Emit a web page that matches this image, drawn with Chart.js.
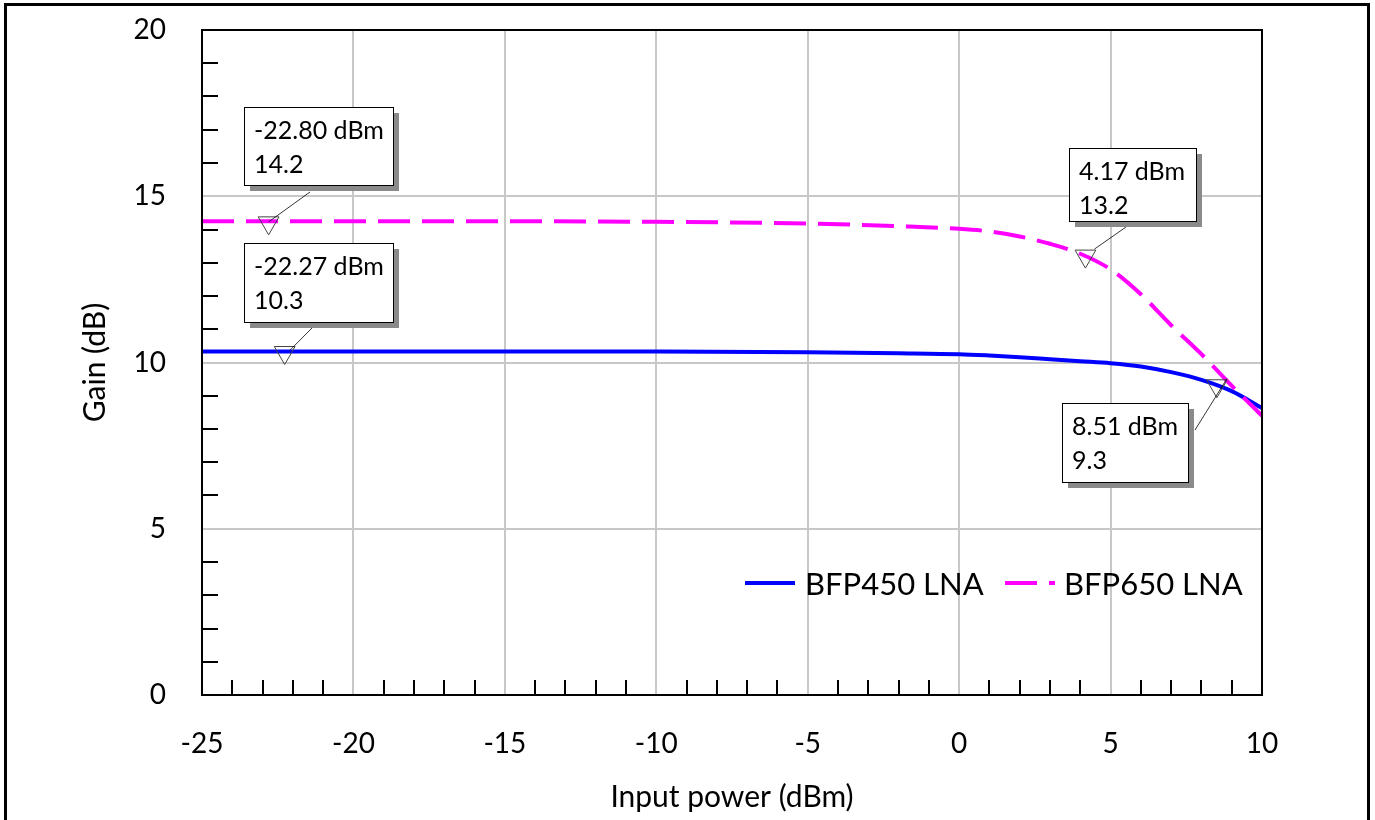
<!DOCTYPE html>
<html>
<head>
<meta charset="utf-8">
<script src="https://cdn.jsdelivr.net/npm/chart.js@4/dist/chart.umd.min.js"></script>
<style>
  body { margin: 0; background: #fff; }
  canvas { display: block; }
</style>
</head>
<body>
<canvas id="plot1" width="1375" height="820"></canvas>
<script>
// input power sweep (dBm)
const powerDbm = [-25, -20, -15, -10, -5, -2, 0, 1, 2, 3, 4, 5, 6, 7, 8, 9, 10];
// gain curves (dB)
const bfp450Gain = [10.33, 10.33, 10.33, 10.33, 10.31, 10.28, 10.25, 10.21, 10.16, 10.1, 10.04, 9.98, 9.88, 9.71, 9.48, 9.14, 8.63];
const bfp650Gain = [14.25, 14.25, 14.25, 14.23, 14.18, 14.1, 14.02, 13.94, 13.79, 13.57, 13.27, 12.8, 12.05, 11.12, 10.25, 9.3, 8.4];
const seriesNames = ["BFP450 LNA", "BFP650 LNA"];

// marker readouts
const markerX = [-22.80, -22.27, 4.17, 8.51];
const markerY = [14.2, 10.3, 13.2, 9.3];

// callout box placement relative to each marker (pixels)
const callouts = [
    {dx: -25, dy: -116, w: 149, h: 78, ax: 66, ay: 85, ex: 0, ey: -1},
    {dx: -41, dy: -110, w: 149, h: 79, ax: 68, ay: 85, ex: 5, ey: -2},
    {dx: -16, dy: -108, w: 127, h: 73, ax: 57, ay: 79, ex: 9, ey: -7},
    {dx: -155, dy: 17, w: 126, h: 79, ax: 133, ay: 27, ex: 10, ey: -7}
];

const FONT = "Lato";

const framePlugin = {
    id: "frame",
    beforeDatasetsDraw(chart) {
        const ctx = chart.ctx;
        const xs = chart.scales.x, ys = chart.scales.y;
        const a = chart.chartArea;
        ctx.save();
        ctx.strokeStyle = "#000";
        ctx.lineWidth = 2;
        // inward minor ticks
        xs.ticks.forEach(t => {
            if (t.value % 5 === 0) return;
            const px = Math.round(xs.getPixelForValue(t.value));
            ctx.beginPath();
            ctx.moveTo(px, a.bottom);
            ctx.lineTo(px, a.bottom - 15);
            ctx.stroke();
        });
        ys.ticks.forEach(t => {
            if (t.value % 5 === 0) return;
            const py = Math.round(ys.getPixelForValue(t.value));
            ctx.beginPath();
            ctx.moveTo(a.left, py);
            ctx.lineTo(a.left + 16, py);
            ctx.stroke();
        });
        ctx.restore();
    },
    afterDatasetsDraw(chart) {
        const ctx = chart.ctx;
        const xs = chart.scales.x, ys = chart.scales.y;
        ctx.save();
        for (let i = 0; i < markerX.length; i++) {
            const c = callouts[i];
            const mx = xs.getPixelForValue(markerX[i]);
            const my = ys.getPixelForValue(markerY[i]);
            const bx = Math.round(mx + c.dx), by = Math.round(my + c.dy);
            // connector
            ctx.strokeStyle = "#000";
            ctx.lineWidth = 0.8;
            ctx.beginPath();
            ctx.moveTo(bx + c.ax, by + c.ay);
            ctx.lineTo(mx + c.ex, my + c.ey);
            ctx.stroke();
            // shadow + box
            ctx.fillStyle = "#8a8a8a";
            ctx.fillRect(bx + 6, by + 6, c.w, c.h);
            ctx.fillStyle = "#fff";
            ctx.fillRect(bx, by, c.w, c.h);
            ctx.strokeStyle = "#000";
            ctx.lineWidth = 1;
            ctx.strokeRect(bx + 0.5, by + 0.5, c.w, c.h);
            ctx.fillStyle = "#000";
            ctx.font = "25px " + FONT;
            ctx.textAlign = "left";
            ctx.textBaseline = "alphabetic";
            ctx.fillText(markerX[i].toFixed(2) + " dBm", bx + 10, by + 32);
            ctx.fillText(markerY[i].toFixed(1), bx + 10, by + 66);
        }
        ctx.restore();
    },
    afterDraw(chart) {
        const ctx = chart.ctx;
        const a = chart.chartArea;
        ctx.save();
        // plot box
        ctx.strokeStyle = "#000";
        ctx.lineWidth = 2;
        ctx.strokeRect(a.left, a.top, a.right - a.left, a.bottom - a.top);
        // legend
        const ly = 583;
        const items = [
            {x: 745, tx: 805, color: "#0000ff", dash: []},
            {x: 1005, tx: 1064, color: "#ff00ff", dash: [32, 12]}
        ];
        items.forEach((it, k) => {
            ctx.strokeStyle = it.color;
            ctx.lineWidth = 4;
            ctx.setLineDash(it.dash);
            ctx.beginPath();
            ctx.moveTo(it.x, ly);
            ctx.lineTo(it.x + 50, ly);
            ctx.stroke();
            ctx.setLineDash([]);
            ctx.fillStyle = "#000";
            ctx.font = "31px " + FONT;
            ctx.textAlign = "left";
            ctx.textBaseline = "middle";
            ctx.fillText(seriesNames[k], it.tx, ly + 2);
        });
        // outer frame
        ctx.strokeStyle = "#000";
        ctx.lineWidth = 3;
        ctx.strokeRect(5.5, 4.5, 1363, 900);
        ctx.restore();
    }
};

const markerPoints = markerX.map((x, i) => ({x: x, y: markerY[i]}));

new Chart(document.getElementById("plot1").getContext("2d"), {
    type: "scatter",
    data: {
        datasets: [{
            label: "markers",
            data: markerPoints,
            showLine: false,
            pointStyle: "triangle",
            rotation: 180,
            radius: 12,
            borderColor: "#444",
            borderWidth: 1,
            backgroundColor: "rgba(0,0,0,0)",
            order: 0
        }, {
            label: seriesNames[1],
            data: powerDbm.map((x, i) => ({x: x, y: bfp650Gain[i]})),
            showLine: true,
            borderColor: "#ff00ff",
            borderWidth: 4,
            borderDash: [32, 12],
            pointRadius: 0,
            cubicInterpolationMode: "monotone",
            order: 1
        }, {
            label: seriesNames[0],
            data: powerDbm.map((x, i) => ({x: x, y: bfp450Gain[i]})),
            showLine: true,
            borderColor: "#0000ff",
            borderWidth: 4,
            pointRadius: 0,
            cubicInterpolationMode: "monotone",
            order: 2
        }]
    },
    options: {
        responsive: false,
        animation: false,
        layout: {padding: {top: 30, right: 113, left: 0, bottom: 0}},
        plugins: {legend: {display: false}, tooltip: {enabled: false}},
        scales: {
            x: {
                type: "linear",
                min: -25, max: 10,
                afterFit(scale) { scale.height = 125; },
                ticks: {
                    stepSize: 1, autoSkip: false, maxRotation: 0,
                    padding: 32, color: "#000",
                    font: {family: FONT, size: 28},
                    callback: v => (v % 5 === 0 ? v : "")
                },
                grid: {
                    drawTicks: false, lineWidth: 2,
                    color: c => (c.tick && c.tick.value % 5 === 0 ? "#c8c8c8" : "rgba(0,0,0,0)")
                },
                border: {color: "#000", width: 2},
                title: {
                    display: true, text: "Input power (dBm)", color: "#000",
                    font: {family: FONT, size: 30}, padding: {bottom: 5}
                }
            },
            y: {
                min: 0, max: 20,
                afterFit(scale) {
                    scale.width = 202;
                    scale.paddingTop = 0;
                    scale.paddingBottom = 0;
                },
                ticks: {
                    stepSize: 1, autoSkip: false, padding: 36, color: "#000",
                    font: {family: FONT, size: 28},
                    callback: v => (v % 5 === 0 ? v : "")
                },
                grid: {
                    drawTicks: false, lineWidth: 2,
                    color: c => (c.tick && c.tick.value % 5 === 0 ? "#c8c8c8" : "rgba(0,0,0,0)")
                },
                border: {color: "#000", width: 2},
                title: {
                    display: true, text: "Gain (dB)", color: "#000",
                    font: {family: FONT, size: 30}, padding: {top: 77}
                }
            }
        }
    },
    plugins: [framePlugin]
});
</script>
</body>
</html>
